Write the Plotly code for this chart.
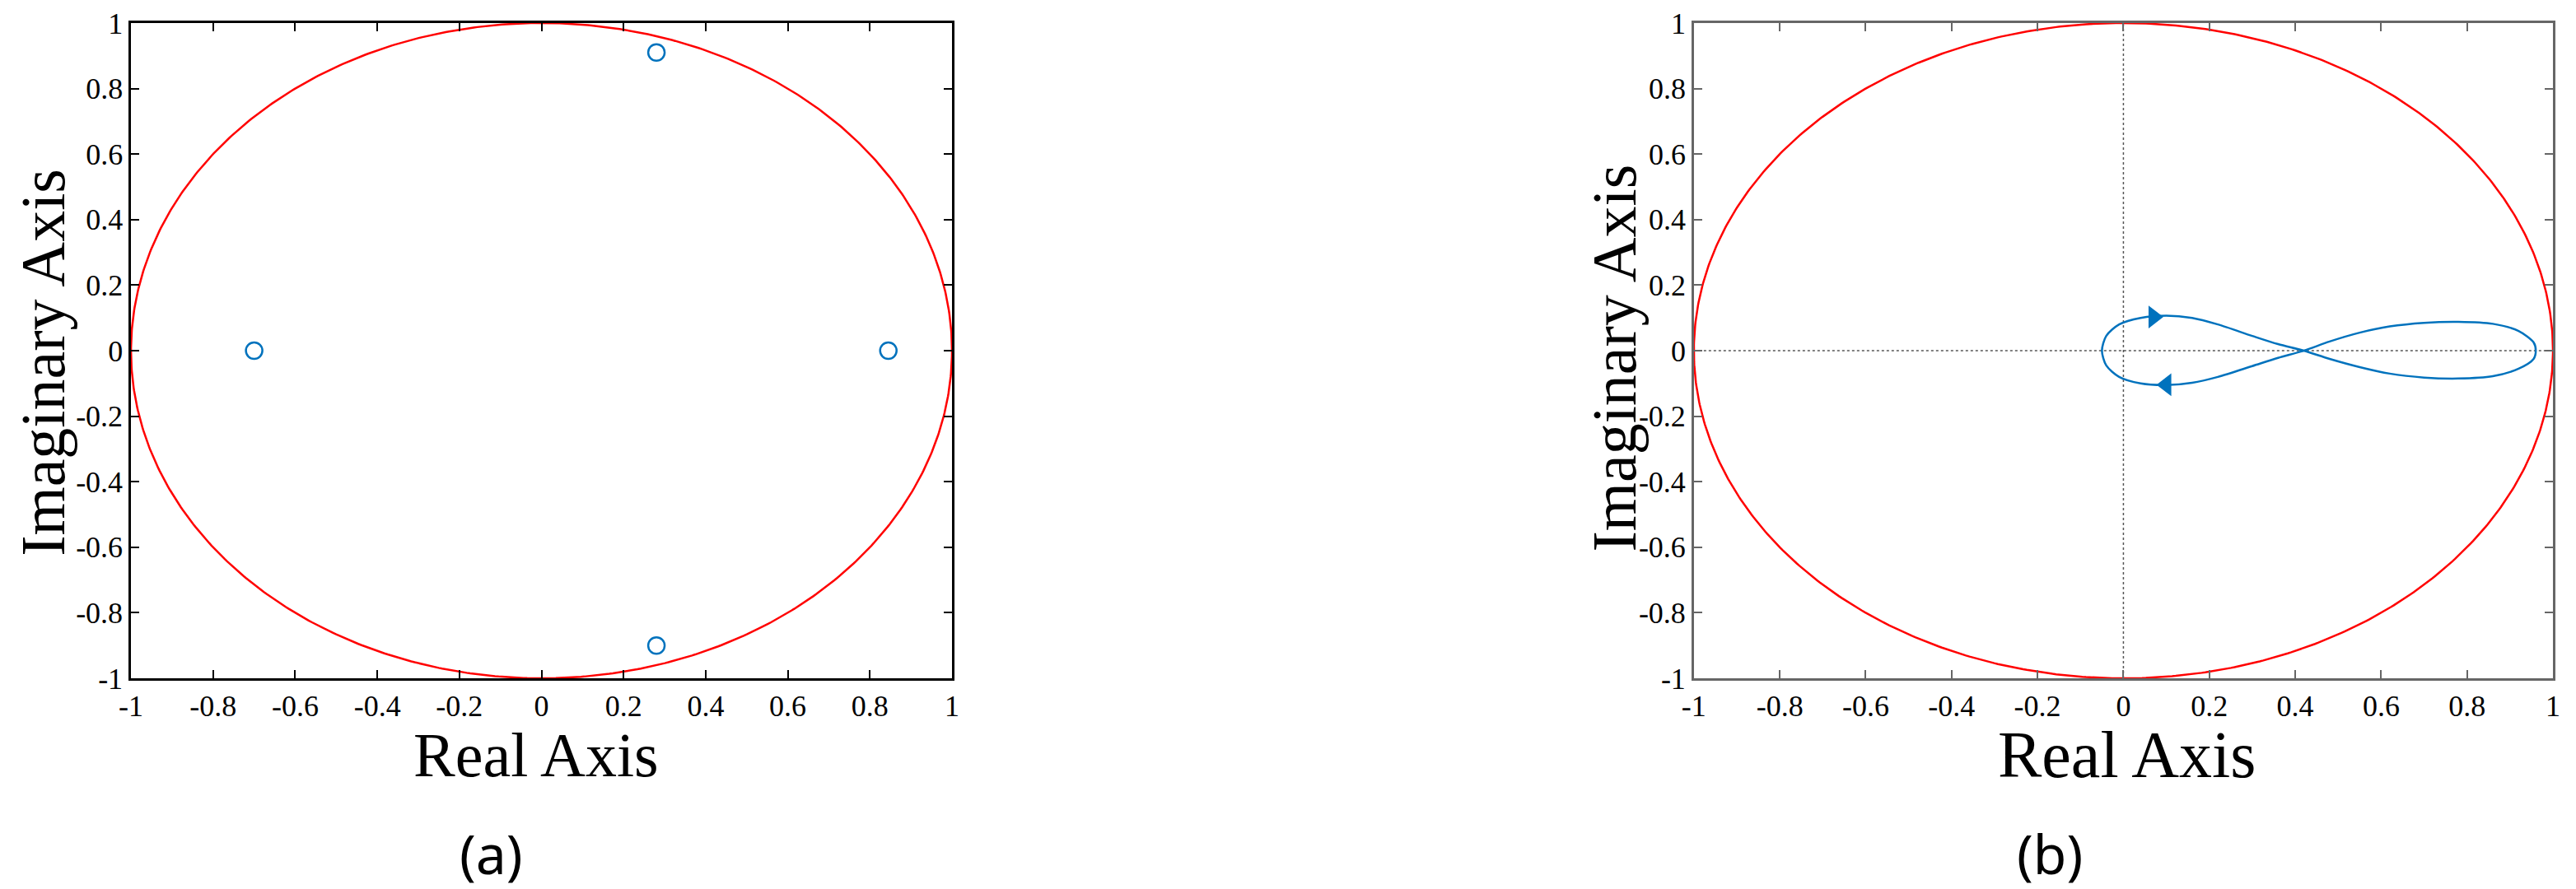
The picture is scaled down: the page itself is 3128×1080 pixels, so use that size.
import numpy as np
import plotly.graph_objects as go

# data
pole_re = [-0.70, 0.28, 0.28, 0.845]
pole_im = [0.0, 0.91, -0.90, 0.0]
loop_re = [-0.05, -0.04, -0.01, 0.04, 0.10, 0.16, 0.22, 0.30, 0.36, 0.42, 0.48, 0.55, 0.62, 0.70, 0.78, 0.86, 0.92, 0.955, 0.96,
           0.955, 0.92, 0.86, 0.78, 0.70, 0.62, 0.55, 0.48, 0.42, 0.36, 0.30, 0.22, 0.16, 0.10, 0.04, -0.01, -0.04, -0.05]
loop_im = [0.0, 0.045, 0.08, 0.10, 0.107, 0.10, 0.08, 0.045, 0.02, 0.0, -0.025, -0.05, -0.07, -0.082, -0.085, -0.078, -0.055, -0.025, 0.0,
           0.025, 0.06, 0.082, 0.088, 0.085, 0.074, 0.055, 0.028, 0.0, -0.022, -0.047, -0.08, -0.098, -0.105, -0.10, -0.08, -0.045, 0.0]
arrow_re = [0.07, 0.10]
arrow_im = [0.103, -0.104]
arrow_sym = ["triangle-right", "triangle-left"]
ticks = [-1, -0.8, -0.6, -0.4, -0.2, 0, 0.2, 0.4, 0.6, 0.8, 1]
tick_text = ["-1", "-0.8", "-0.6", "-0.4", "-0.2", "0", "0.2", "0.4", "0.6", "0.8", "1"]

theta = np.linspace(0, 2*np.pi, 721)
cx, cy = np.cos(theta), np.sin(theta)
blue = "#0072BD"

fig = go.Figure()
fig.add_trace(go.Scatter(x=cx, y=cy, mode="lines", line=dict(color="red", width=2.5), xaxis="x", yaxis="y"))
fig.add_trace(go.Scatter(x=pole_re, y=pole_im, mode="markers",
                         marker=dict(symbol="circle-open", size=20, color=blue, line=dict(width=2.5, color=blue)),
                         xaxis="x", yaxis="y"))
fig.add_trace(go.Scatter(x=[-1, 1], y=[0, 0], mode="lines", line=dict(color="#555", width=1.5, dash="dot"), xaxis="x2", yaxis="y2"))
fig.add_trace(go.Scatter(x=[0, 0], y=[-1, 1], mode="lines", line=dict(color="#555", width=1.5, dash="dot"), xaxis="x2", yaxis="y2"))
fig.add_trace(go.Scatter(x=cx, y=cy, mode="lines", line=dict(color="red", width=2.5), xaxis="x2", yaxis="y2"))
fig.add_trace(go.Scatter(x=loop_re, y=loop_im, mode="lines", line=dict(color=blue, width=2.5, shape="spline", smoothing=0.8),
                         xaxis="x2", yaxis="y2"))
fig.add_trace(go.Scatter(x=arrow_re, y=arrow_im, mode="markers",
                         marker=dict(symbol=arrow_sym, size=24, color=blue), xaxis="x2", yaxis="y2"))

def ax(domain, color, anchor):
    return dict(domain=domain, range=[-1, 1], tickvals=ticks, ticktext=tick_text, ticks="inside", ticklen=10,
                tickwidth=2, tickcolor=color, mirror="ticks", showline=True, linecolor=color, linewidth=2.5,
                showgrid=False, zeroline=False, anchor=anchor, automargin=False, ticklabeloverflow="allow",
                tickfont=dict(family="Liberation Serif", size=36, color="black"))

fig.update_layout(
    width=3128, height=1080, margin=dict(l=0, r=0, t=0, b=0),
    paper_bgcolor="white", plot_bgcolor="white", showlegend=False,
    xaxis=ax([0.0483, 0.367], "black", "y"), yaxis=ax([0.2444, 0.9815], "black", "x"),
    xaxis2=ax([0.655, 0.9885], "#666", "y2"), yaxis2=ax([0.2444, 0.9815], "#666", "x2"),
)
serif = dict(family="Liberation Serif", size=76, color="black")
ann = [
    dict(x=0.2055, y=0.158, text="Real Axis", font=serif),
    dict(x=0.823, y=0.158, text="Real Axis", font=dict(family="Liberation Serif", size=80, color="black")),
    dict(x=0.0140, y=0.600, text="Imaginary Axis", font=serif, textangle=-90),
    dict(x=0.6240, y=0.605, text="Imaginary Axis", font=serif, textangle=-90),
    dict(x=0.188, y=0.048, text="(a)", font=dict(family="Noto Sans", size=66, color="black")),
    dict(x=0.793, y=0.048, text="(b)", font=dict(family="Noto Sans", size=66, color="black")),
]
for a in ann:
    fig.add_annotation(xref="paper", yref="paper", showarrow=False, xanchor="center", yanchor="middle", **a)

fig.write_html("out.html")
